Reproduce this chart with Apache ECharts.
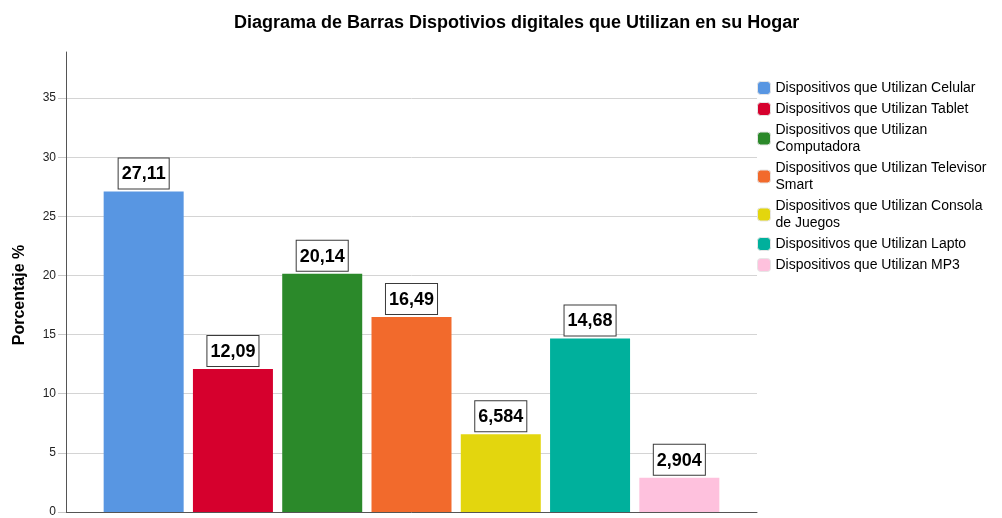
<!DOCTYPE html>
<html>
<head>
<meta charset="utf-8">
<script src="https://cdn.jsdelivr.net/npm/echarts@6/dist/echarts.min.js"></script>
<style>
  html, body { margin: 0; padding: 0; background: #fff; }
  #chart { width: 1002px; height: 518px; }
</style>
</head>
<body>
<div id="chart"></div>
<script>
// Percentage of households using each digital device
const deviceNames = [
  'Dispositivos que Utilizan Celular',
  'Dispositivos que Utilizan Tablet',
  'Dispositivos que Utilizan\nComputadora',
  'Dispositivos que Utilizan Televisor\nSmart',
  'Dispositivos que Utilizan Consola\nde Juegos',
  'Dispositivos que Utilizan Lapto',
  'Dispositivos que Utilizan MP3'
];
const percentages = [27.11, 12.09, 20.14, 16.49, 6.584, 14.68, 2.904];
const barColors = ['#5896E2', '#D6002D', '#2B892A', '#F26A2C', '#E3D60E', '#00B09C', '#FEC1DD'];
const yTicks = [0, 5, 10, 15, 20, 25, 30, 35];

const FONT = '"Liberation Sans", Arial, sans-serif';
const fmtComma = v => String(v).replace('.', ',');

const chart = echarts.init(document.getElementById('chart'), null, { renderer: 'canvas' });

const series = deviceNames.map((name, i) => ({
  name: name,
  type: 'bar',
  data: [percentages[i]],
  barWidth: 80,
  barGap: '11.6%',
  itemStyle: { color: barColors[i] },
  label: {
    show: true,
    position: 'top',
    distance: 3,
    formatter: p => fmtComma(p.value),
    color: '#000',
    fontFamily: FONT,
    fontWeight: 'bold',
    fontSize: 18,
    backgroundColor: '#fff',
    borderColor: '#3a3a3a',
    borderWidth: 1,
    padding: [7, 3, 5, 3]
  }
}));

// split lines: light grey at every 5, none at the axis maximum
const gridColors = yTicks.map(() => '#d4d4d4').concat(['rgba(0,0,0,0)']);

chart.setOption({
  animation: false,
  backgroundColor: '#fff',
  title: {
    text: 'Diagrama de Barras Dispotivios digitales que Utilizan en su Hogar',
    left: 229,
    top: 9,
    textStyle: { fontFamily: FONT, fontWeight: 'bold', fontSize: 18, color: '#000' }
  },
  legend: {
    orient: 'vertical',
    left: 752,
    top: 74.5,
    itemWidth: 13,
    itemHeight: 13,
    itemGap: 4,
    itemStyle: { borderColor: '#e6e6e6', borderWidth: 1 },
    textStyle: { fontFamily: FONT, fontSize: 14, color: '#000', lineHeight: 17 },
    data: deviceNames
  },
  grid: { left: 66, right: 245, top: 52, bottom: 4, containLabel: false },
  xAxis: {
    type: 'category',
    data: [''],
    axisLine: { show: true, lineStyle: { color: '#555', width: 1 } },
    axisTick: { show: false },
    axisLabel: { show: false }
  },
  yAxis: {
    type: 'value',
    min: 0,
    max: 38.9,
    interval: 5,
    name: 'Porcentaje %',
    nameLocation: 'middle',
    nameGap: 38,
    nameTextStyle: {
      fontFamily: FONT, fontWeight: 'bold', fontSize: 16, color: '#000',
      padding: [0, 26, 0, 0]
    },
    axisLine: { show: true, lineStyle: { color: '#555', width: 1 } },
    axisTick: { show: true, length: 8, customValues: yTicks, lineStyle: { color: '#c8c8c8' } },
    axisLabel: {
      fontFamily: FONT, fontSize: 12, color: '#222', margin: 10,
      customValues: yTicks,
      formatter: v => (yTicks.indexOf(v) >= 0 ? String(v) : '')
    },
    splitLine: { show: true, lineStyle: { color: gridColors, width: 1 } }
  },
  series: series
});
</script>
</body>
</html>
